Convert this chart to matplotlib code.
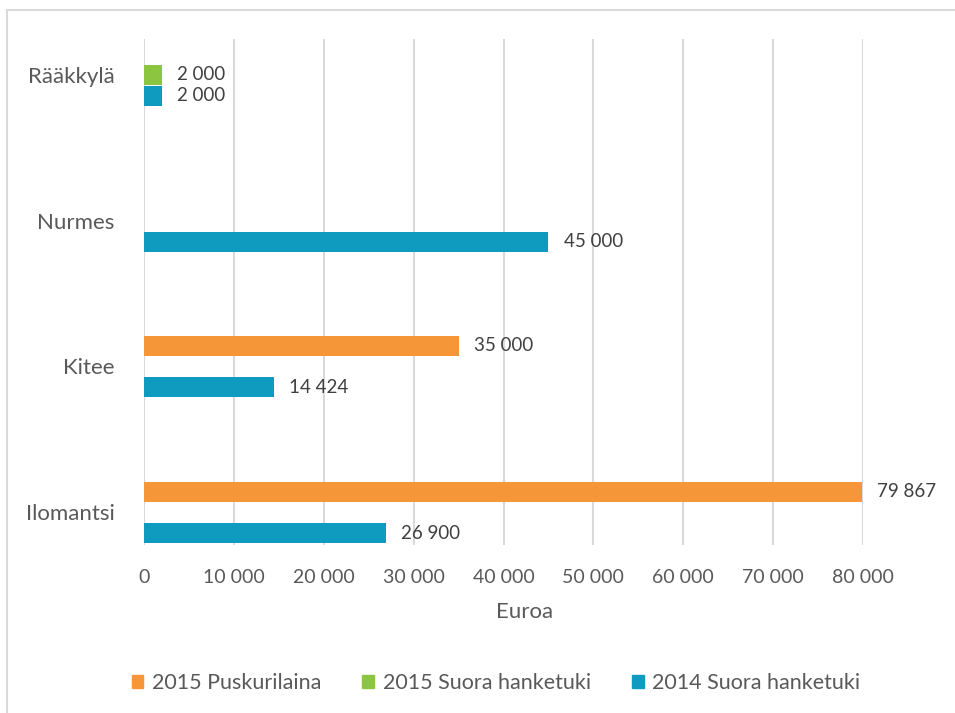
import numpy as np
import matplotlib
matplotlib.use("Agg")
import matplotlib.pyplot as plt
from matplotlib.patches import Patch, Rectangle

plt.rcParams['font.family'] = ['Lato', 'DejaVu Sans']

# bottom to top, as drawn
categories = ['Ilomantsi', 'Kitee', 'Nurmes', 'Rääkkylä']
series_names = ['2015 Puskurilaina', '2015 Suora hanketuki', '2014 Suora hanketuki']
puskurilaina_2015 = [79867, 35000, np.nan, np.nan]
hanketuki_2015 = [np.nan, np.nan, np.nan, 2000]
hanketuki_2014 = [26900, 14424, 45000, 2000]
x_ticks = [0, 10000, 20000, 30000, 40000, 50000, 60000, 70000, 80000]

colors = ['#F59639', '#8CC53F', '#0E9BBF']
series = [puskurilaina_2015, hanketuki_2015, hanketuki_2014]
offsets = [0.141, 0.0, -0.144]

fig = plt.figure(figsize=(9.55, 7.13), dpi=100)
ax = fig.add_axes([144 / 955, 1 - 545 / 713, (863 - 144) / 955, (545 - 39) / 713])

y = np.arange(len(categories))
for vals, col, off in zip(series, colors, offsets):
    ax.barh(y + off, vals, height=0.137, color=col, zorder=3)
    for yi, v in zip(y, vals):
        if not np.isnan(v):
            lab = f"{int(v):,}".replace(",", " ")
            ax.annotate(lab, (v, yi + off), xytext=(11, 0), textcoords='offset points',
                        va='center', ha='left', fontsize=13.5, color='#404040')

ax.set_xlim(0, 80000)
ax.set_ylim(-0.226, 3.247)
ax.set_xticks(x_ticks)
ax.set_xticklabels([f"{t:,}".replace(",", " ") for t in x_ticks])
ax.set_yticks(y)
ax.set_yticklabels(categories)
ax.tick_params(axis='x', length=0, pad=17, labelsize=14, labelcolor='#595959')
ax.tick_params(axis='y', length=0, pad=21, labelsize=16, labelcolor='#595959')
ax.grid(axis='x', color='#D9D9D9', linewidth=1.5, zorder=0)
for s in ax.spines.values():
    s.set_visible(False)

fig.text(525 / 955, 1 - 612 / 713, 'Euroa', ha='center', va='center', fontsize=16, color='#595959')

handles = [Patch(color=c) for c in colors]
fig.legend(handles, series_names, loc='center', bbox_to_anchor=(496 / 955, 1 - 683 / 713),
           ncol=3, frameon=False, fontsize=15.5, labelcolor='#595959',
           handlelength=0.55, handleheight=0.55, handletextpad=0.4, columnspacing=1.9)

fig.patches.append(Rectangle((7 / 955, -0.1), 2, 1 - 10 / 713 + 0.1, transform=fig.transFigure,
                             fill=False, edgecolor='#D9D9D9', linewidth=1.5))

fig.savefig('out.png', dpi=100)
